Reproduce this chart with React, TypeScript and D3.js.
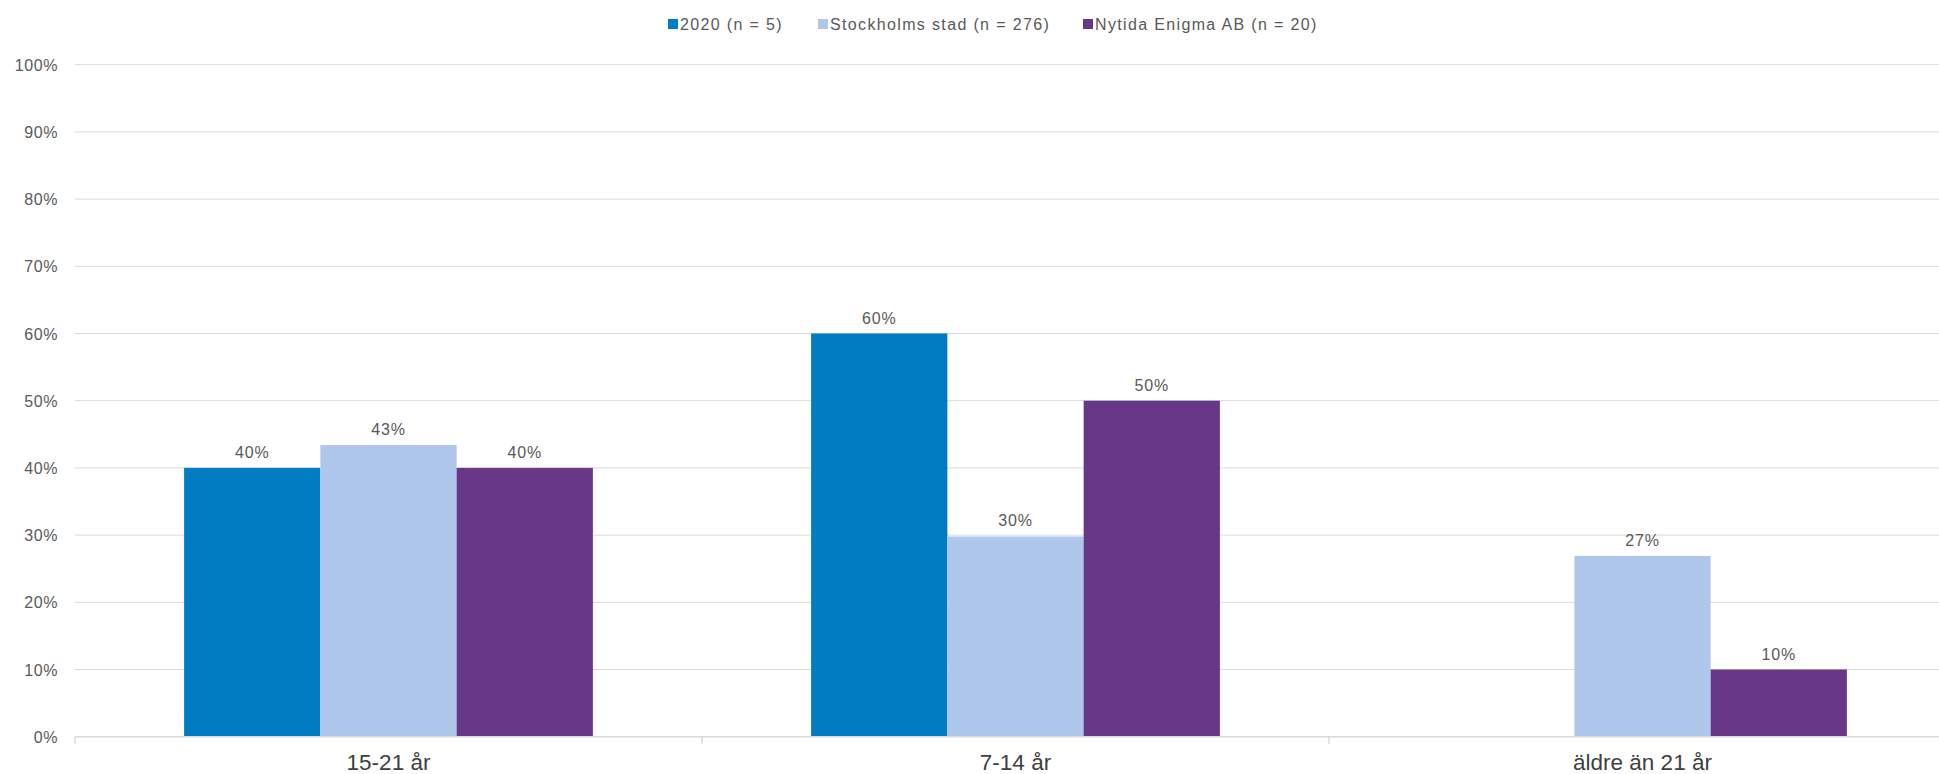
import React from "react";
import * as d3 from "d3";

const categories = ["15-21 år", "7-14 år", "äldre än 21 år"];
const seriesNames = ["2020 (n = 5)", "Stockholms stad (n = 276)", "Nytida Enigma AB (n = 20)"];
const series2020: (number | null)[] = [40, 60, null];
const seriesStockholm: (number | null)[] = [43.4, 29.8, 26.9];
const seriesNytida: (number | null)[] = [40, 50, 10];
const yTicks = [0, 10, 20, 30, 40, 50, 60, 70, 80, 90, 100];

const colors = ["#007CC3", "#AEC7EA", "#693787"];
const W = 1939;
const H = 774;
const FONT = "'Liberation Sans', Arial, sans-serif";
const TEXT = "#595959";
const GRID = "#D9D9D9";
const legendX = [668, 818, 1083];

export default function App() {
  const seriesValues = [series2020, seriesStockholm, seriesNytida];
  const y = d3.scaleLinear().domain([0, 100]).range([736.7, 64.7]);
  const x0 = d3
    .scaleBand<string>()
    .domain(categories)
    .range([75, 1956])
    .paddingInner(0.348)
    .paddingOuter(0.174);
  const x1 = d3
    .scaleBand<string>()
    .domain(seriesNames)
    .range([0, x0.bandwidth()]);
  const step = x0.step();
  const boundaries = categories.map((_, i) => 75 + i * step).concat([75 + categories.length * step]);

  return (
    <svg
      width={W}
      height={H}
      style={{ position: "absolute", left: 0, top: 0, background: "#fff" }}
      fontFamily={FONT}
    >
      {/* legend */}
      {seriesNames.map((s, i) => (
        <g key={s}>
          <rect x={legendX[i]} y={19} width={10} height={10} fill={colors[i]} />
          <text x={legendX[i] + 12} y={30} fontSize={16} fill={TEXT} letterSpacing={1.35}>
            {s}
          </text>
        </g>
      ))}
      {/* gridlines */}
      {yTicks.map((t) => (
        <g key={t}>
          {t > 0 && (
            <line x1={75} x2={W} y1={y(t)} y2={y(t)} stroke={GRID} strokeWidth={1} />
          )}
          <text
            x={58}
            y={y(t) + 6}
            textAnchor="end"
            fontSize={16}
            fill={TEXT}
            letterSpacing={0.6}
          >
            {t}%
          </text>
        </g>
      ))}
      {/* bars */}
      {categories.map((c, ci) => (
        <g key={c} transform={`translate(${x0(c)},0)`}>
          {seriesNames.map((s, si) => {
            const v = seriesValues[si][ci];
            if (v == null) return null;
            const bx = x1(s)!;
            return (
              <g key={s}>
                <rect
                  x={bx}
                  y={y(v)}
                  width={x1.bandwidth()}
                  height={y(0) - y(v)}
                  fill={colors[si]}
                />
                <text
                  x={bx + x1.bandwidth() / 2}
                  y={y(v) - 10}
                  textAnchor="middle"
                  fontSize={16}
                  fill={TEXT}
                  letterSpacing={0.8}
                >
                  {Math.round(v)}%
                </text>
              </g>
            );
          })}
        </g>
      ))}
      {/* x axis */}
      <line x1={75} x2={W} y1={y(0)} y2={y(0)} stroke={GRID} strokeWidth={1.5} />
      {boundaries.map((b, i) => (
        <line key={i} x1={b} x2={b} y1={y(0)} y2={y(0) + 7} stroke={GRID} strokeWidth={1.5} />
      ))}
      {categories.map((c) => (
        <text
          key={c}
          x={x0(c)! + x0.bandwidth() / 2}
          y={770}
          textAnchor="middle"
          fontSize={22.5}
          fill="#404040"
        >
          {c}
        </text>
      ))}
    </svg>
  );
}
